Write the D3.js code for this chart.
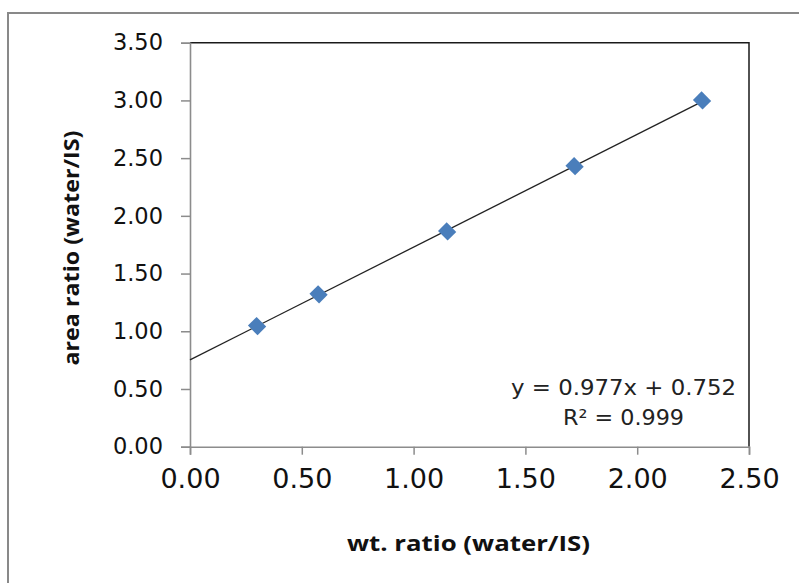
<!DOCTYPE html>
<html><head><meta charset="utf-8">
<script src="https://cdn.jsdelivr.net/npm/d3@7/dist/d3.min.js"></script>
<style>body{margin:0;background:#fff}svg{display:block}</style>
</head><body>
<svg id="c" width="799" height="583"></svg>
<script>
const wtRatio   = [0.30, 0.575, 1.15, 1.72, 2.29];
const areaRatio = [1.045, 1.32, 1.865, 2.43, 3.00];
const xTicks = [0, 0.5, 1.0, 1.5, 2.0, 2.5];
const yTicks = [0, 0.5, 1.0, 1.5, 2.0, 2.5, 3.0, 3.5];
const trendSlope = [0.977];
const trendIntercept = [0.752];
const eqLines = ["y = 0.977x + 0.752", "R² = 0.999"];
const xTitle = "wt. ratio (water/IS)";
const yTitle = "area ratio (water/IS)";

const svg = d3.select("#c");
const L = 190, R = 749, T = 42.7, B = 446.7;
const x = d3.scaleLinear().domain([0, 2.5]).range([L, R]);
const y = d3.scaleLinear().domain([0, 3.5]).range([B, T]);

// outer chart border
svg.append("rect").attr("x", 8).attr("y", 13).attr("width", 820).attr("height", 600)
  .attr("fill", "none").attr("stroke", "#898989").attr("stroke-width", 2);

// plot area border (top/right dark)
svg.append("path").attr("d", `M${L},${T}H${R}V${B}`).attr("fill", "none")
  .attr("stroke", "#1a1a1a").attr("stroke-width", 1.5);

const yAxis = svg.append("g").attr("transform", `translate(${L},0)`)
  .call(d3.axisLeft(y).tickValues(yTicks).tickFormat(d3.format(".2f")).tickSize(9).tickPadding(18));
const xAxis = svg.append("g").attr("transform", `translate(0,${B})`)
  .call(d3.axisBottom(x).tickValues(xTicks).tickFormat(d3.format(".2f")).tickSize(8).tickPadding(10));
[yAxis, xAxis].forEach(g => {
  g.select(".domain").attr("stroke", "#8c8c8c").attr("stroke-width", 1.6);
  g.selectAll(".tick line").attr("stroke", "#8c8c8c").attr("stroke-width", 1.5);
  g.selectAll("text").attr("fill", "#111").attr("font-family", "DejaVu Sans");
});
yAxis.selectAll("text").attr("font-size", 22.5);
xAxis.selectAll("text").attr("font-size", 27).attr("dy", "0.88em");

// trendline
const xEnd = d3.max(wtRatio);
svg.append("line")
  .attr("x1", x(0)).attr("y1", y(trendIntercept[0]))
  .attr("x2", x(xEnd)).attr("y2", y(trendIntercept[0] + trendSlope[0] * xEnd))
  .attr("stroke", "#222").attr("stroke-width", 1.3);

// markers
const sym = d3.symbol(d3.symbolSquare, 185);
svg.append("g").selectAll("path").data(wtRatio).join("path")
  .attr("d", sym)
  .attr("transform", (d, i) => `translate(${x(d)},${y(areaRatio[i])}) rotate(45) scale(1,0.9)`)
  .attr("fill", "#4A7EBB");

// equation
const eqLen = [225, 121];
svg.append("g").selectAll("text").data(eqLines).join("text")
  .attr("x", 623.5).attr("y", (d, i) => 395 + i * 30)
  .attr("text-anchor", "middle").attr("font-family", "DejaVu Sans").attr("font-size", 21)
  .attr("textLength", (d, i) => eqLen[i]).attr("lengthAdjust", "spacingAndGlyphs")
  .attr("fill", "#222").text(d => d);

// axis titles
svg.append("text").attr("x", 468.5).attr("y", 551).attr("text-anchor", "middle")
  .attr("font-family", "Open Sans").attr("font-weight", "bold").attr("font-size", 22)
  .attr("fill", "#111").attr("textLength", 243).attr("lengthAdjust", "spacingAndGlyphs").text(xTitle);
svg.append("text").attr("transform", "translate(79,248) rotate(-90)").attr("text-anchor", "middle")
  .attr("font-family", "Open Sans").attr("font-weight", "bold").attr("font-size", 22)
  .attr("fill", "#111").attr("textLength", 235).attr("lengthAdjust", "spacingAndGlyphs").text(yTitle);
</script>
</body></html>
